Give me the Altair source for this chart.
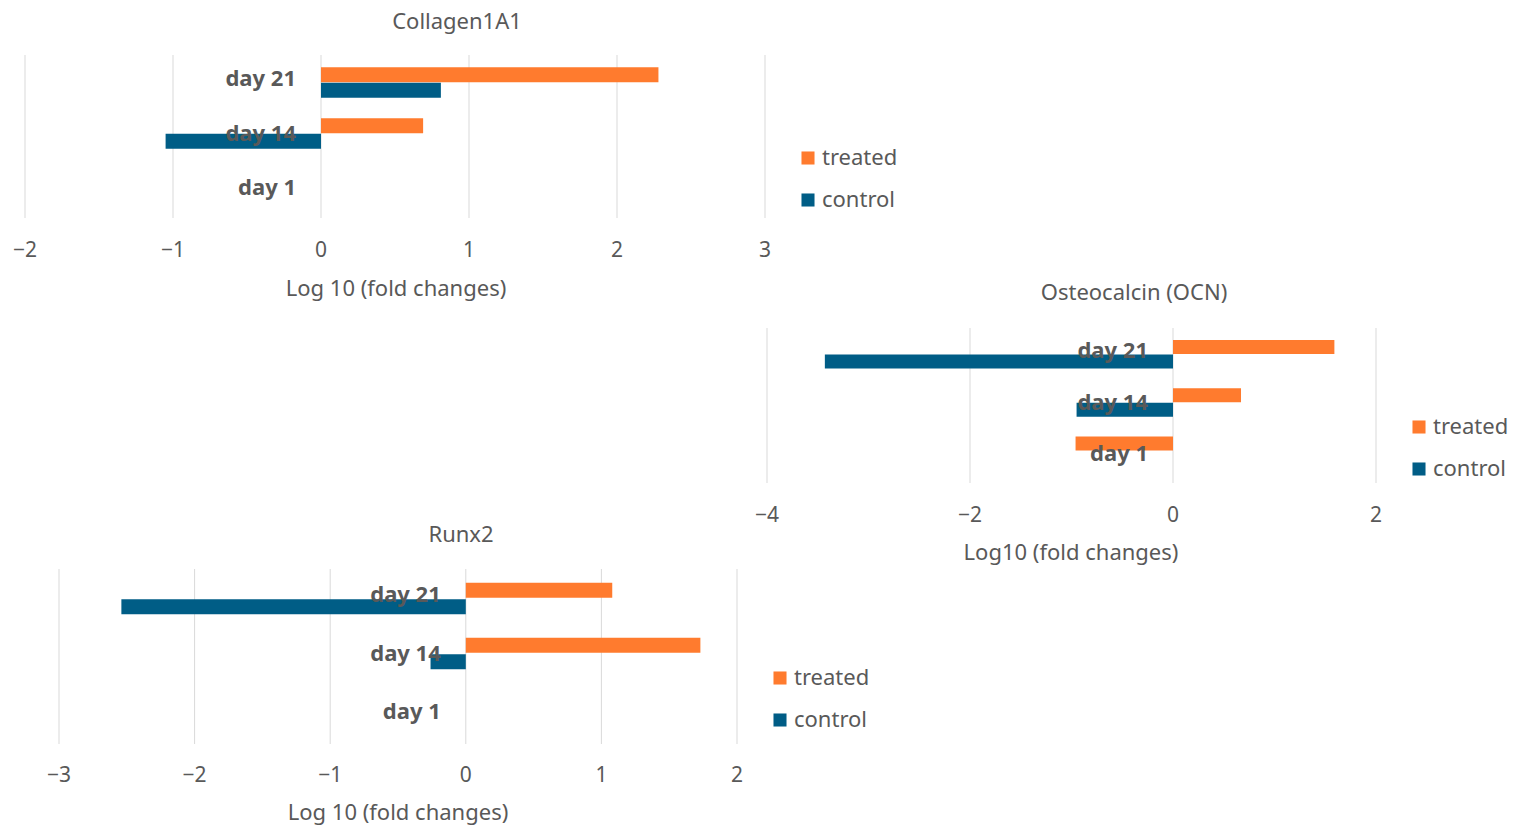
import pandas as pd
import altair as alt

days = ["day 21", "day 14", "day 1"]
series = ["treated", "control"]
colors = ["#FF7B2E", "#005D86"]

col_treated = [2.28, 0.69, 0.0]
col_control = [0.81, -1.05, 0.0]
ocn_treated = [1.59, 0.67, -0.96]
ocn_control = [-3.43, -0.95, 0.0]
runx_treated = [1.08, 1.73, 0.0]
runx_control = [-2.54, -0.26, 0.0]

col_ticks = [-2, -1, 0, 1, 2, 3]
ocn_ticks = [-4, -2, 0, 2]
runx_ticks = [-3, -2, -1, 0, 1, 2]

M = 8  # page margin
GREY = "#595959"
FONT = "Noto Sans"

panels = [
    dict(title="Collagen1A1", axis_title="Log 10 (fold changes)", treated=col_treated, control=col_control,
         ticks=col_ticks, dom=[-2, 3], xr=[25, 765], yr=[52, 215], title_y=20, tick_y=251, at_y=289,
         at_x=396, title_x=457, leg_x=808, leg_y=[158, 200], bar=15),
    dict(title="Osteocalcin (OCN)", axis_title="Log10 (fold changes)", treated=ocn_treated, control=ocn_control,
         ticks=ocn_ticks, dom=[-4, 2], xr=[767, 1376], yr=[325, 480], title_y=291, tick_y=516, at_y=553,
         at_x=1071, title_x=1134, leg_x=1419, leg_y=[427, 469], bar=14),
    dict(title="Runx2", axis_title="Log 10 (fold changes)", treated=runx_treated, control=runx_control,
         ticks=runx_ticks, dom=[-3, 2], xr=[59, 737], yr=[566, 741], title_y=533, tick_y=776, at_y=813,
         at_x=398, title_x=461, leg_x=780, leg_y=[678, 720], bar=15),
]


def panel_layers(p):
    xs = alt.Scale(domain=p["dom"], range=[p["xr"][0] - M, p["xr"][1] - M], nice=False, zero=False)
    ys = alt.Scale(domain=[-0.5, 2.5], range=[p["yr"][0] - M, p["yr"][1] - M], nice=False, zero=False)
    top, bot = p["yr"][0] - M + 3, p["yr"][1] - M + 3
    ls = alt.Scale(domain=series, range=[p["leg_y"][0] - M, p["leg_y"][1] - M], padding=0)

    rows = []
    for i, d in enumerate(days):
        rows.append({"day": d, "series": "treated", "v": p["treated"][i], "pos": i - 0.15, "zero": 0})
        rows.append({"day": d, "series": "control", "v": p["control"][i], "pos": i + 0.15, "zero": 0})
    bars_df = pd.DataFrame(rows)
    lab_df = pd.DataFrame({"day": days, "pos": list(range(3)), "zero": 0})
    tick_df = pd.DataFrame({"t": p["ticks"], "lab": [str(t).replace("-", "\u2212") for t in p["ticks"]]})
    leg_df = pd.DataFrame({"s": series})

    grid = alt.Chart(tick_df).mark_rule(color="#D9D9D9", strokeWidth=1).encode(
        x=alt.X("t:Q", scale=xs, axis=None), y=alt.value(top), y2=alt.value(bot))
    bars = alt.Chart(bars_df).mark_bar(size=p["bar"]).encode(
        x=alt.X("v:Q", scale=xs, axis=None), x2="zero:Q",
        y=alt.Y("pos:Q", scale=ys, axis=None),
        color=alt.Color("series:N", scale=alt.Scale(domain=series, range=colors), legend=None))
    labels = alt.Chart(lab_df).mark_text(align="right", baseline="middle", dx=-25, fontSize=22,
                                         fontWeight="bold", color=GREY, font=FONT).encode(
        x=alt.X("zero:Q", scale=xs, axis=None), y=alt.Y("pos:Q", scale=ys, axis=None), text="day:N")
    ticks = alt.Chart(tick_df).mark_text(baseline="middle", fontSize=21, color=GREY, font=FONT).encode(
        x=alt.X("t:Q", scale=xs, axis=None), y=alt.value(p["tick_y"] - M), text="lab:N")
    at = alt.Chart(pd.DataFrame({"t": [p["axis_title"]]})).mark_text(
        baseline="middle", fontSize=22, color=GREY, font=FONT).encode(
        x=alt.value(p["at_x"] - M), y=alt.value(p["at_y"] - M), text="t:N")
    title = alt.Chart(pd.DataFrame({"t": [p["title"]]})).mark_text(
        baseline="middle", fontSize=22, color=GREY, font=FONT).encode(
        x=alt.value(p["title_x"] - M), y=alt.value(p["title_y"] - M + 2), text="t:N")
    leg_sq = alt.Chart(leg_df).mark_square(size=170, opacity=1).encode(
        x=alt.value(p["leg_x"] - M),
        y=alt.Y("s:N", scale=ls, axis=None),
        color=alt.Color("s:N", scale=alt.Scale(domain=series, range=colors), legend=None))
    leg_tx = alt.Chart(leg_df).mark_text(align="left", baseline="middle", fontSize=22, color=GREY, font=FONT).encode(
        x=alt.value(p["leg_x"] + 14 - M),
        y=alt.Y("s:N", scale=ls, axis=None),
        text="s:N")
    return [grid, bars, labels, ticks, at, title, leg_sq, leg_tx]


layers = []
for p in panels:
    layers += panel_layers(p)

chart = (
    alt.layer(*layers)
    .resolve_scale(x="independent", y="independent", color="independent")
    .properties(width=1508, height=819, padding=0, autosize=alt.AutoSizeParams(type="none"))
    .configure_view(strokeWidth=0)
)

chart.save("out.html", embed_options={"renderer": "svg", "actions": False})
